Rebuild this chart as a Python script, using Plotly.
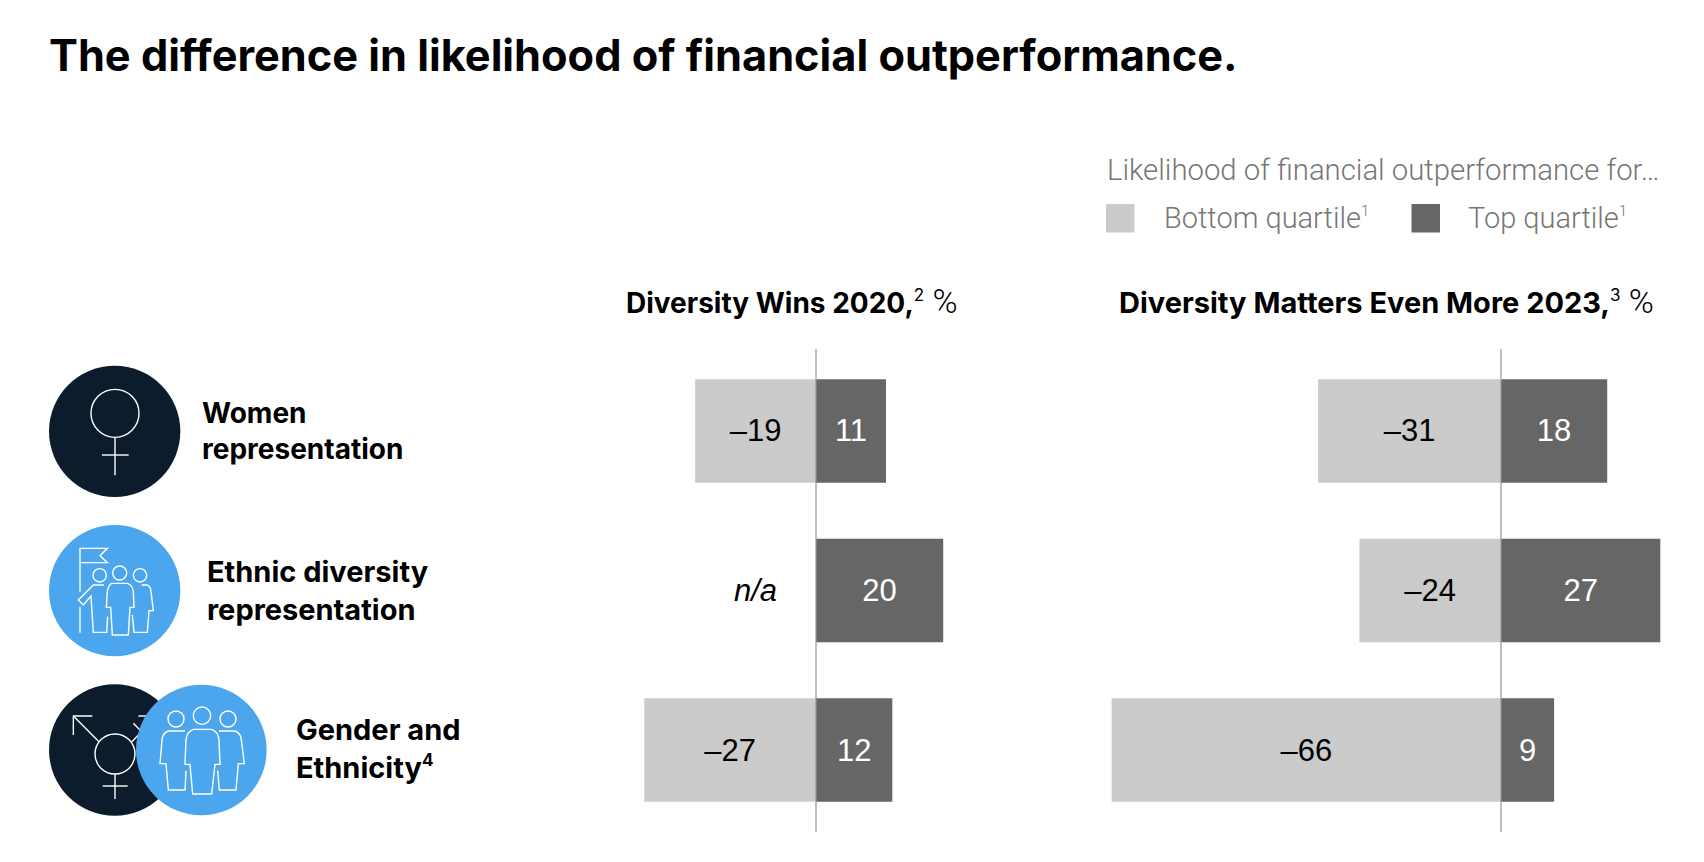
import plotly.graph_objects as go

W, H = 1704, 862

# ---------- data ----------
categories = ["Women representation", "Ethnic diversity representation", "Gender and Ethnicity"]
bottom_2020 = [-19, None, -27]
top_2020 = [11, 20, 12]
bottom_2023 = [-31, -24, -66]
top_2023 = [18, 27, 9]
PCT = '<span style="font-family:Roboto;font-weight:300;font-size:34px"> %</span>'
panel_titles = ['<b>Diversity Wins 2020,</b><sup><span style="font-size:17px">2</span></sup>' + PCT,
                '<span style="font-size:29px"><b>Diversity Matters Even More 2023,</b></span><sup><span style="font-size:17px">3</span></sup>' + PCT]
row_labels = ["<b>Women</b><br><b>representation</b>",
              "<b>Ethnic diversity</b><br><b>representation</b>",
              '<b>Gender and</b><br><b>Ethnicity</b><sup><span style="font-size:17px"><b>4</b></span></sup>']
title_text = "The difference in likelihood of financial outperformance."
legend_title = "Likelihood of financial outperformance for…"
SUP1 = '<sup><span style="font-size:15px">1</span></sup>'
legend_names = ["Bottom quartile" + SUP1, "Top quartile" + SUP1]
na_text = "<i>n/a</i>"

# ---------- style ----------
LIGHT, DARK = "#cbcbcb", "#666666"
NAVY, BLUE = "#0d1c2d", "#4ca6ee"
BOLD_FONT = "Inter"
NUM_FONT = "Liberation Sans"
THIN_FONT = "Roboto"


def px(x):
    return x / W


def py(y):
    return 1 - y / H


def fmt(v):
    if v is None:
        return ""
    return f"–{abs(v)}" if v < 0 else str(v)


fig = go.Figure()


def add_bars(values, color, text_color, xa, ya, name):
    fig.add_trace(go.Bar(
        y=categories, x=values, orientation="h", name=name, xaxis=xa, yaxis=ya,
        marker=dict(color=color, line=dict(width=0)),
        text=[fmt(v) for v in values], textposition="inside",
        insidetextanchor="middle", textangle=0, constraintext="none",
        textfont=dict(family=NUM_FONT, size=31, color=text_color),
        showlegend=False, hoverinfo="skip"))


add_bars(bottom_2020, LIGHT, "#000000", "x", "y", "Bottom quartile")
add_bars(top_2020, DARK, "#ffffff", "x", "y", "Top quartile")
add_bars(bottom_2023, LIGHT, "#000000", "x2", "y2", "Bottom quartile")
add_bars(top_2023, DARK, "#ffffff", "x2", "y2", "Top quartile")

Y_TOP, Y_BOT = 349, 832
y_range = [2.514, -0.514]
y_dom = [py(Y_BOT), py(Y_TOP)]


def yaxis(anchor):
    return dict(type="category", categoryorder="array", categoryarray=categories,
                range=y_range, autorange=False, domain=y_dom, anchor=anchor,
                showgrid=False, zeroline=False, showline=False,
                ticks="", showticklabels=False)


def xaxis(rng, anchor, zero, scale):
    return dict(range=rng, autorange=False, anchor=anchor,
                domain=[px(zero + rng[0] * scale), px(zero + rng[1] * scale)],
                showgrid=False, zeroline=False, showline=False,
                ticks="", showticklabels=False)


shapes = []

# zero lines on top of the bars
for xr, yr in (("x", "y domain"), ("x2", "y2 domain")):
    shapes.append(dict(type="line", xref=xr, yref=yr, x0=0, x1=0, y0=0, y1=1,
                       layer="above", line=dict(color="rgba(150,150,150,0.8)", width=1.5)))


def circle(cx, cy, r, fill=None, line=None):
    shapes.append(dict(type="circle", xref="paper", yref="paper",
                       x0=px(cx - r), x1=px(cx + r), y0=py(cy + r), y1=py(cy - r),
                       fillcolor=fill if fill else "rgba(0,0,0,0)",
                       line=dict(width=1.4 if line else 0, color=line or "rgba(0,0,0,0)"),
                       layer="above"))


def zcircle(x, y, r, fill=None, line=None):
    circle(30 + x / 3, 350 + y / 3, r / 3, fill, line)


def zpath(*cmds):
    out = []
    for c in cmds:
        if isinstance(c, str):
            out.append(c)
        else:
            out.append(f"{px(30 + c[0] / 3):.5f},{py(350 + c[1] / 3):.5f}")
    shapes.append(dict(type="path", xref="paper", yref="paper", path=" ".join(out),
                       line=dict(color="#ffffff", width=1.4),
                       fillcolor="rgba(0,0,0,0)", layer="above"))


def poly(*pts, close=False):
    cmds = ["M", pts[0]]
    for p in pts[1:]:
        cmds += ["L", p]
    if close:
        cmds.append("Z")
    zpath(*cmds)


# woman icon
zcircle(254, 244, 197, NAVY)
zcircle(255, 190, 72, None, "#ffffff")
poly((255, 262), (255, 376))
poly((216, 315), (296, 315))

# ethnic diversity icon
zcircle(254, 722, 197, BLUE)
poly((150, 725), (150, 595), (232, 595), (210, 617), (232, 638), (150, 638))
poly((150, 770), (150, 848))
zcircle(209, 676, 20, None, "#ffffff")
poly((222, 705), (190, 705), (145, 750), (160, 765), (183, 738), (190, 847), (230, 847), (233, 800))
zcircle(269, 669, 21, None, "#ffffff")
zpath("M", (245, 700), "L", (292, 700), "Q", (308, 705), (310, 725), "L", (312, 772), "L", (300, 772),
      "L", (295, 855), "L", (247, 855), "L", (242, 772), "L", (229, 772), "L", (232, 725),
      "Q", (235, 705), (245, 700), "Z")
zcircle(330, 676, 20, None, "#ffffff")
zpath("M", (335, 705), "L", (352, 705), "Q", (362, 710), (363, 725), "L", (370, 782), "L", (357, 782),
      "L", (352, 847), "L", (312, 847), "L", (307, 795))

# gender icon
zcircle(254, 1200, 197, NAVY)
zcircle(255, 1212, 60, None, "#ffffff")
poly((255, 1272), (255, 1347))
poly((218, 1308), (293, 1308))
poly((207, 1175), (130, 1098))
poly((187, 1098), (130, 1098), (130, 1155))
poly((303, 1178), (380, 1098))
poly((325, 1098), (380, 1098))
poly((310, 1120), (332, 1142))

# people icon
zcircle(514, 1200, 196, BLUE)
zcircle(438, 1107, 24, None, "#ffffff")
zcircle(516, 1097, 26, None, "#ffffff")
zcircle(594, 1107, 24, None, "#ffffff")
zpath("M", (490, 1138), "L", (545, 1138), "Q", (565, 1145), (567, 1170), "L", (570, 1243), "L", (555, 1243),
      "L", (545, 1332), "L", (488, 1332), "L", (480, 1243), "L", (465, 1243), "L", (468, 1170),
      "Q", (470, 1145), (490, 1138), "Z")
zpath("M", (465, 1143), "L", (415, 1143), "Q", (397, 1150), (396, 1170), "L", (390, 1241), "L", (408, 1241),
      "L", (415, 1320), "L", (465, 1320), "L", (468, 1262))
zpath("M", (567, 1143), "L", (615, 1143), "Q", (633, 1150), (634, 1170), "L", (643, 1241), "L", (625, 1241),
      "L", (618, 1320), "L", (568, 1320), "L", (563, 1262))

# legend swatches
for x0, col in ((1106, LIGHT), (1411.5, DARK)):
    shapes.append(dict(type="rect", xref="paper", yref="paper", x0=px(x0), x1=px(x0 + 28.5),
                       y0=py(232.5), y1=py(204), fillcolor=col, line=dict(width=0)))

annotations = []


def note(text, x, y, size, family, color="#000000", anchor="left", weight=None):
    f = dict(family=family, size=size, color=color)
    if weight:
        f["weight"] = weight
    annotations.append(dict(text=text, xref="paper", yref="paper", x=px(x), y=py(y),
                            xanchor=anchor, yanchor="middle", align="left", showarrow=False,
                            font=f, borderpad=0))


note(f"<b>{title_text}</b>", 48, 54.5, 43.3, BOLD_FONT)
note(legend_title, 1106, 170, 29.3, THIN_FONT, "#767676", weight=300)
note(legend_names[0], 1163, 218, 29, THIN_FONT, "#767676", weight=300)
note(legend_names[1], 1467, 218, 29, THIN_FONT, "#767676", weight=300)
note(panel_titles[0], 625, 301, 28, BOLD_FONT)
note(panel_titles[1], 1118, 301, 28, BOLD_FONT)
note(row_labels[0], 201, 431, 28, BOLD_FONT)
note(row_labels[1], 206, 590, 29, BOLD_FONT)
note(row_labels[2], 295, 748, 29, BOLD_FONT)

annotations.append(dict(text=na_text, xref="x", yref="y", x=-9.5, y=categories[1], showarrow=False,
                        xanchor="center", yanchor="middle",
                        font=dict(family=NUM_FONT, size=31, color="#000000")))

fig.update_layout(
    width=W, height=H, autosize=False,
    margin=dict(l=0, r=0, t=0, b=0, pad=0),
    paper_bgcolor="#ffffff", plot_bgcolor="#ffffff",
    barmode="relative", bargap=0.351,
    xaxis=xaxis([-30, 25], "y", 816, 6.36),
    yaxis=yaxis("x"),
    xaxis2=xaxis([-70, 28], "y2", 1501, 5.9),
    yaxis2=yaxis("x2"),
    shapes=shapes, annotations=annotations,
    showlegend=False,
)

fig.write_html("out.html", config={"displayModeBar": False},
               post_script="document.body.style.margin='0';document.documentElement.style.overflow='hidden';")
